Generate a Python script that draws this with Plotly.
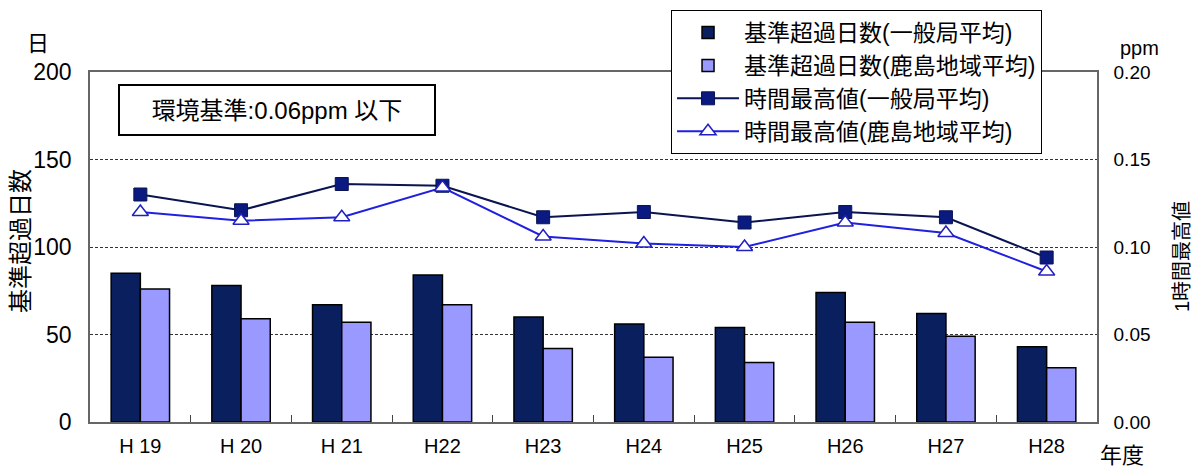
import plotly.graph_objects as go

years = ["H 19", "H 20", "H 21", "H22", "H23", "H24", "H25", "H26", "H27", "H28"]
days_general = [85, 78, 67, 84, 60, 56, 54, 74, 62, 43]
days_kashima = [76, 59, 57, 67, 42, 37, 34, 57, 49, 31]
max_general = [0.130, 0.121, 0.136, 0.135, 0.117, 0.120, 0.114, 0.120, 0.117, 0.094]
max_kashima = [0.120, 0.115, 0.117, 0.134, 0.106, 0.102, 0.100, 0.114, 0.108, 0.086]

FONT = "Liberation Sans, Arial, Noto Sans CJK JP, sans-serif"

fig = go.Figure()
fig.add_trace(go.Bar(
    x=years, y=days_general, name="基準超過日数(一般局平均)",
    marker=dict(color="#0a1f5e", line=dict(color="black", width=1.5)),
))
fig.add_trace(go.Bar(
    x=years, y=days_kashima, name="基準超過日数(鹿島地域平均)",
    marker=dict(color="#9999ff", line=dict(color="black", width=1.5)),
))
fig.add_trace(go.Scatter(
    x=years, y=max_general, name="時間最高値(一般局平均)", yaxis="y2",
    mode="lines+markers",
    line=dict(color="#0a1450", width=2),
    marker=dict(symbol="square", size=13, color="#0a1a80", line=dict(color="#0a1450", width=1)),
))
fig.add_trace(go.Scatter(
    x=years, y=max_kashima, name="時間最高値(鹿島地域平均)", yaxis="y2",
    mode="lines+markers",
    line=dict(color="#2020e0", width=2),
    marker=dict(symbol="triangle-up", size=14, color="white", line=dict(color="#2020c0", width=1.5)),
))

fig.update_layout(
    width=1192, height=468,
    margin=dict(l=90, r=95, t=72, b=46, autoexpand=False),
    paper_bgcolor="white", plot_bgcolor="white",
    font=dict(family=FONT, size=20, color="black"),
    barmode="group", bargap=0.42, bargroupgap=0,
    showlegend=True,
    legend=dict(
        x=0.577, y=1.177, xanchor="left", yanchor="top",
        bgcolor="white", bordercolor="black", borderwidth=1,
        font=dict(size=23, family=FONT), tracegroupgap=0,
        itemwidth=62,
    ),
    xaxis=dict(
        type="category", range=[-0.5, 9.5], tickson="boundaries", ticks="inside", ticklen=7,
        tickcolor="#444", showline=True, linecolor="#666", linewidth=1.5,
        mirror=True, showgrid=False, tickfont=dict(size=20), ticklabelstandoff=5,
        tickangle=0,
    ),
    yaxis=dict(
        range=[0, 200], dtick=50, showgrid=True, gridcolor="#333",
        griddash="3px,2px", gridwidth=1, zeroline=False,
        showline=True, linecolor="#666", linewidth=1.5,
        ticks="", tickfont=dict(size=23), ticklabelstandoff=12,
    ),
    yaxis2=dict(
        range=[0, 0.2], dtick=0.05, tickformat=".2f", overlaying="y", side="right",
        showgrid=False, zeroline=False, showline=True, linecolor="#666", linewidth=1.5,
        ticks="", tickfont=dict(size=19), ticklabelstandoff=11,
    ),
    annotations=[
        dict(text="環境基準:0.06ppm 以下", xref="paper", yref="paper", x=0.0278, y=0.965,
             xanchor="left", yanchor="top", showarrow=False, font=dict(size=24),
             width=296, height=30, align="center",
             bordercolor="black", borderwidth=2, borderpad=9, bgcolor="white"),
        dict(text="基準超過日数", xref="paper", yref="paper", x=-0.0695, y=0.517,
             xanchor="center", yanchor="middle", textangle=-90, showarrow=False,
             font=dict(size=24)),
        dict(text="1時間最高値", xref="paper", yref="paper", x=1.0844, y=0.474,
             xanchor="center", yanchor="middle", textangle=-90, showarrow=False,
             font=dict(size=20)),
        dict(text="日", xref="paper", yref="paper", x=-0.052, y=1.08, xanchor="center",
             yanchor="middle", showarrow=False, font=dict(size=22)),
        dict(text="ppm", xref="paper", yref="paper", x=1.0427, y=1.069, xanchor="center",
             yanchor="middle", showarrow=False, font=dict(size=20)),
        dict(text="年度", xref="paper", yref="paper", x=1.0248, y=-0.097, xanchor="center",
             yanchor="middle", showarrow=False, font=dict(size=22)),
    ],
)

fig.write_html("out.html", config={"displayModeBar": False},
               post_script="document.body.style.margin='0';")
